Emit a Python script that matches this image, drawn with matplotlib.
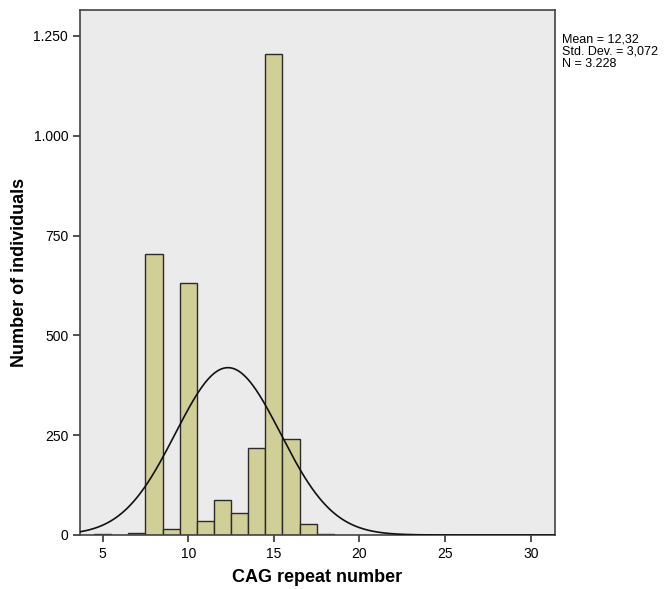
import numpy as np
import matplotlib.pyplot as plt
from matplotlib.ticker import FuncFormatter

plt.rcParams["font.family"] = ["Liberation Sans", "DejaVu Sans"]

# CAG repeat counts (bin centers) and number of individuals
repeats = [5, 7, 8, 9, 10, 11, 12, 13, 14, 15, 16, 17, 18]
counts = [2, 5, 705, 14, 632, 34, 87, 56, 219, 1206, 240, 28, 2]

mean_val = 12.32
std_val = 3.072
n_total = 3228

fig = plt.figure(figsize=(6.65, 5.89), dpi=100)
ax = fig.add_axes([80 / 665, 54 / 589, 475 / 665, 525 / 589])
ax.set_facecolor("#ebebeb")

ax.bar(repeats, counts, width=1.0, color="#d1cf98", edgecolor="#2b2b2b",
       linewidth=1.0, zorder=2)

# normal curve from the reported statistics
xs = np.linspace(3.68, 31.4, 400)
ys = n_total / (std_val * np.sqrt(2 * np.pi)) * np.exp(-0.5 * ((xs - mean_val) / std_val) ** 2)
ax.plot(xs, ys, color="#111111", linewidth=1.2, zorder=3)

ax.set_xlim(3.68, 31.42)
ax.set_ylim(0, 1315)
ax.set_xticks([5, 10, 15, 20, 25, 30])
ax.set_yticks([0, 250, 500, 750, 1000, 1250])
ax.yaxis.set_major_formatter(FuncFormatter(lambda v, p: f"{int(v):,}".replace(",", ".")))
ax.tick_params(axis="both", labelsize=10, length=5, width=1.2, color="#333333")

for s in ax.spines.values():
    s.set_color("#444444")
    s.set_linewidth(1.2)

ax.set_xlabel("CAG repeat number", fontsize=13, fontweight="bold", labelpad=6)
ax.set_ylabel("Number of individuals", fontsize=13, fontweight="bold")
ax.yaxis.set_label_coords(-0.11, 0.5)

fig.text(562 / 665, 1 - 52 / 589,
         "Mean = 12,32\nStd. Dev. = 3,072\nN = 3.228",
         fontsize=9, va="center", ha="left", linespacing=1.0)

fig.savefig("out.png", dpi=100)
